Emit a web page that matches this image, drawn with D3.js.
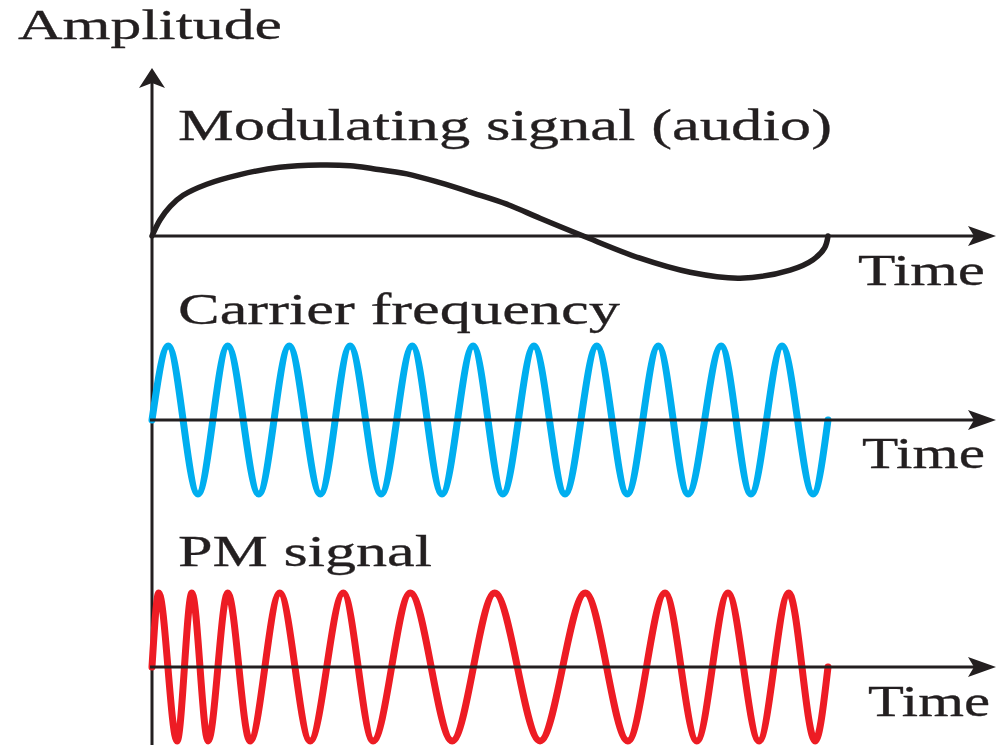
<!DOCTYPE html>
<html>
<head>
<meta charset="utf-8">
<script src="https://cdn.jsdelivr.net/npm/d3@7"></script>
<style>
  html, body { margin: 0; padding: 0; background: #fff; }
  svg { display: block; }
</style>
</head>
<body>
<script>
// modulating signal (audio): time 0..100, amplitude -1..1
var audioTime = [0, 1.2, 2.7, 4.6, 8.1, 13.0, 18.9, 24.9, 29.3, 32.7, 37.7, 42.6, 47.5, 52.5,
                 57.4, 63.8, 72.2, 79.6, 87.0, 94.4, 97.8, 99.5, 100];
var audioAmp  = [0, 0.22, 0.40, 0.55, 0.70, 0.83, 0.93, 0.96, 0.95, 0.91, 0.84, 0.72, 0.58, 0.43,
                 0.24, 0, -0.30, -0.49, -0.57, -0.46, -0.32, -0.16, 0];

// carrier: turning points
var carrierTime = [0, 2.4, 6.8, 11.2, 15.8, 20.3, 24.9, 29.3, 33.9, 38.5, 42.9, 47.5, 51.9,
                   56.5, 61.1, 65.8, 70.3, 74.9, 79.3, 84.2, 88.6, 93.2, 97.8, 100];
var carrierAmp  = [0, 1, -1, 1, -1, 1, -1, 1, -1, 1, -1, 1, -1,
                   1, -1, 1, -1, 1, -1, 1, -1, 1, -1, 0];

// PM signal: turning points
var pmTime = [0, 1.0, 3.7, 5.9, 8.3, 11.2, 14.5, 18.9, 23.4, 28.3, 32.7, 38.2, 44.4,
              50.7, 57.4, 64.1, 70.4, 75.9, 80.6, 85.2, 89.8, 94.2, 98.1, 100];
var pmAmp  = [0, 1, -1, 1, -1, 1, -1, 1, -1, 1, -1, 1, -1,
              1, -1, 1, -1, 1, -1, 1, -1, 1, -1, 0];

var titles = ["Modulating signal (audio)", "Carrier frequency", "PM signal"];
var axisLabel = "Time";
var yLabel = "Amplitude";

var width = 1003, height = 751;
var ink = "#231f20";
var font = "'Liberation Serif', 'Times New Roman', serif";

var svg = d3.select("body").append("svg")
    .attr("width", width)
    .attr("height", height);

var x = d3.scaleLinear().domain([0, 100]).range([152, 828]);
var amp = d3.scaleLinear().domain([-1, 1]).range([74, -74]);

function zip(t, a) {
    return t.map(function (d, i) { return { t: d, a: a[i] }; });
}

var panels = [
    { base: 236, data: zip(audioTime, audioAmp), color: ink, sw: 5.5,
      curve: d3.curveCatmullRom.alpha(0.5),
      title: titles[0], titleY: 140, titleLen: 654, timeX: 858, timeY: 285, timeLen: 127 },
    { base: 420, data: zip(carrierTime, carrierAmp), color: "#00aeef", sw: 7,
      curve: d3.curveMonotoneX,
      title: titles[1], titleY: 324, titleLen: 442, timeX: 862, timeY: 468, timeLen: 123 },
    { base: 667, data: zip(pmTime, pmAmp), color: "#ed1c24", sw: 7,
      curve: d3.curveMonotoneX,
      title: titles[2], titleY: 566, titleLen: 254, timeX: 868, timeY: 716, timeLen: 122 }
];

// vertical amplitude axis
svg.append("line")
    .attr("x1", 152).attr("x2", 152)
    .attr("y1", 745).attr("y2", 80)
    .attr("stroke", ink).attr("stroke-width", 3);
svg.append("path")
    .attr("d", "M152,68 L165,88 L152,83 L139,88 Z")
    .attr("fill", ink);

svg.append("text")
    .attr("x", 18).attr("y", 39)
    .attr("font-family", font).attr("font-size", 43)
    .attr("textLength", 264).attr("lengthAdjust", "spacingAndGlyphs")
    .attr("fill", ink).attr("stroke", ink).attr("stroke-width", 0.3)
    .text(yLabel);

panels.forEach(function (p) {
    var g = svg.append("g").attr("transform", "translate(0," + p.base + ")");

    var line = d3.line()
        .x(function (d) { return x(d.t); })
        .y(function (d) { return amp(d.a); })
        .curve(p.curve);

    g.append("path")
        .datum(p.data)
        .attr("d", line)
        .attr("fill", "none")
        .attr("stroke", p.color)
        .attr("stroke-width", p.sw)
        .attr("stroke-linecap", "round");

    // time axis with arrow
    g.append("line")
        .attr("x1", 150).attr("x2", 980)
        .attr("y1", 0).attr("y2", 0)
        .attr("stroke", ink).attr("stroke-width", 3);
    g.append("path")
        .attr("d", "M996,0 L968,-10 L974,0 L968,10 Z")
        .attr("fill", ink);

    svg.append("text")
        .attr("x", 178).attr("y", p.titleY)
        .attr("font-family", font).attr("font-size", 45)
        .attr("textLength", p.titleLen).attr("lengthAdjust", "spacingAndGlyphs")
        .attr("fill", ink).attr("stroke", ink).attr("stroke-width", 0.3)
        .text(p.title);

    svg.append("text")
        .attr("x", p.timeX).attr("y", p.timeY)
        .attr("font-family", font).attr("font-size", 45)
        .attr("textLength", p.timeLen).attr("lengthAdjust", "spacingAndGlyphs")
        .attr("fill", ink).attr("stroke", ink).attr("stroke-width", 0.3)
        .text(axisLabel);
});
</script>
</body>
</html>
